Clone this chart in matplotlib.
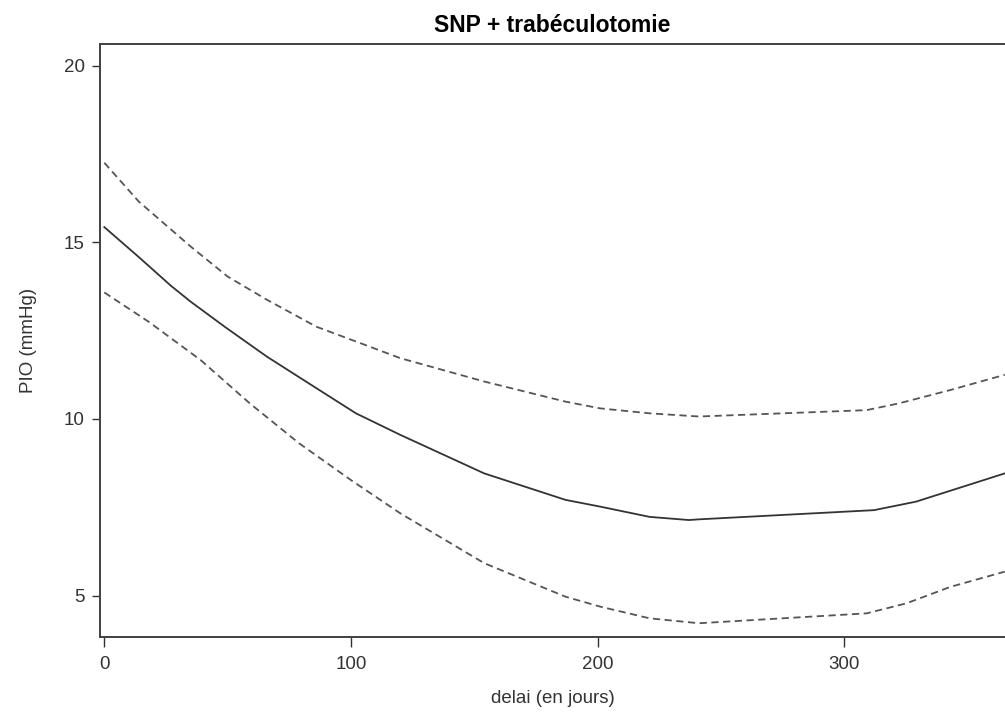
import matplotlib
matplotlib.use('Agg')
import matplotlib.pyplot as plt

plt.rcParams['font.family'] = ['Liberation Sans', 'DejaVu Sans']

# Estimated curve (delai in days -> PIO in mmHg)
x_fit = [0, 14, 27, 35, 49, 66, 86, 102, 120, 154, 187, 201, 221, 237, 241, 312, 329, 365]
y_fit = [15.43, 14.58, 13.77, 13.32, 12.6, 11.76, 10.87, 10.16, 9.55, 8.46, 7.71, 7.52, 7.23, 7.14, 7.16, 7.42, 7.66, 8.46]

# Upper confidence bound
x_up = [0, 14, 35, 50, 66, 86, 104, 120, 154, 187, 201, 221, 241, 309, 322, 343, 365]
y_up = [17.25, 16.15, 14.88, 14.03, 13.37, 12.61, 12.14, 11.72, 11.06, 10.49, 10.30, 10.16, 10.07, 10.25, 10.44, 10.82, 11.25]

# Lower confidence bound
x_low = [0, 18, 39, 59, 79, 100, 120, 154, 187, 201, 221, 241, 309, 325, 343, 365]
y_low = [13.58, 12.75, 11.67, 10.44, 9.31, 8.27, 7.33, 5.92, 4.97, 4.69, 4.36, 4.22, 4.50, 4.78, 5.25, 5.68]

x_ticks = [0, 100, 200, 300]
y_ticks = [5, 10, 15, 20]

fig = plt.figure(figsize=(10.05, 7.19), dpi=100)
ax = fig.add_axes([0.0995, 0.1145, 0.9005, 0.8243])

ax.plot(x_fit, y_fit, color='#333333', lw=1.3)
ax.plot(x_up, y_up, color='#555555', lw=1.3, ls=(0, (4, 2.5)))
ax.plot(x_low, y_low, color='#555555', lw=1.3, ls=(0, (4, 2.5)))

ax.set_xlim(-1.74, 365.1)
ax.set_ylim(3.84, 20.61)
ax.set_xticks(x_ticks)
ax.set_yticks(y_ticks)

for side in ['left', 'bottom', 'top']:
    ax.spines[side].set_color('#404040')
    ax.spines[side].set_linewidth(1.4)
ax.spines['right'].set_visible(False)

ax.tick_params(axis='x', length=7, width=1, pad=7, labelsize=13.5, colors='#333333')
ax.tick_params(axis='y', length=6, width=1, pad=5, labelsize=13.5, colors='#333333')

ax.set_title('SNP + trabéculotomie', fontsize=16.5, fontweight='bold', pad=9)
ax.set_xlabel('delai (en jours)', fontsize=13.5, color='#333333', labelpad=12)
ax.set_ylabel('PIO (mmHg)', fontsize=13.5, color='#333333', labelpad=19)

fig.savefig('out.png', dpi=100)
